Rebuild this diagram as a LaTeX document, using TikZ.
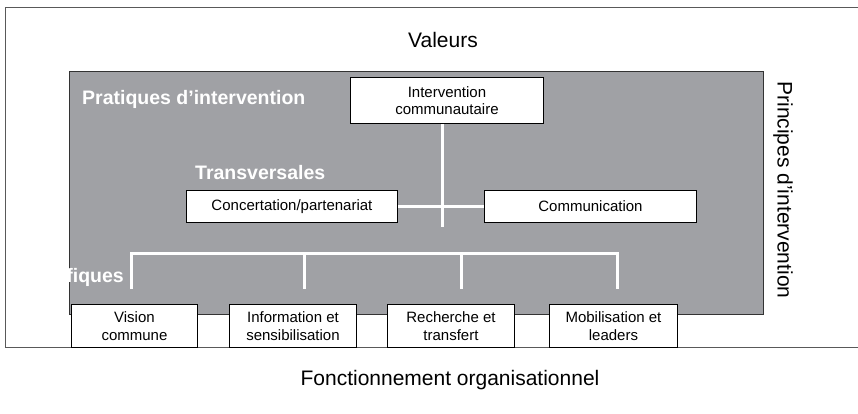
\documentclass[tikz,border=0pt]{standalone}
\usepackage{fontspec}
\setmainfont{Liberation Sans}
\begin{document}
\begin{tikzpicture}[x=1pt,y=-1pt,
  bigtxt/.style={font=\fontsize{21}{24}\selectfont, inner sep=0pt},
  hdr/.style={font=\fontsize{19.5}{22}\selectfont\bfseries, text=white, inner sep=0pt},
  wbox/.style={draw=black, line width=0.9pt, fill=white, font=\fontsize{15}{17.5}\selectfont, align=center, inner sep=0pt},
  wline/.style={draw=white, line width=3pt},
]
\useasboundingbox (0,0) rectangle (858,414);
\definecolor{boxgray}{RGB}{160,161,165}
% outer frame (right side runs off the picture)
\coordinate (otl) at (5,8);
\coordinate (otr) at (858,8);
\coordinate (obl) at (5,347);
\coordinate (obr) at (858,347);
\draw[draw=black!65, line width=1pt] (otr) -- (otl) -- (obl) -- (obr);
% gray panel
\node[draw=black!80, line width=1pt, fill=boxgray, minimum width=694pt, minimum height=243pt, anchor=north west, inner sep=0pt] (panel) at (69,71) {};
% texts
\node[bigtxt] (val) at (443,40) {Valeurs};
\node[bigtxt] (fonc) at (450,380) {Fonctionnement organisationnel};
\node[bigtxt, rotate=-90] (princ) at (783,190) {Principes d’intervention};
\node[hdr, anchor=west] (prat) at (82,99) {Pratiques d’intervention};
\node[hdr, anchor=west] (trans) at (195,173) {Transversales};
\node[hdr, anchor=east] (spec) at (124,277) {fiques};
% boxes
\node[wbox, minimum width=193pt, minimum height=46pt, anchor=north west] (ic) at (350,77) {Intervention\\communautaire};
\node[wbox, minimum width=211pt, minimum height=32pt, anchor=north west] (conc) at (186,190) {Concertation/partenariat};
\node[wbox, minimum width=212pt, minimum height=32pt, anchor=north west] (comm) at (484,190) {Communication};
% connectors (transversales)
\coordinate (vend) at (442,227);
\draw[wline] (ic.south -| vend) -- (vend);
\draw[wline] (conc.east) -- (comm.west);
% bracket for spécifiques
\coordinate (b1) at (131,289);
\coordinate (b2) at (304,289);
\coordinate (b3) at (461,289);
\coordinate (b4) at (617,289);
\draw[wline] (b1) -- (131,253) -- (617,253) -- (b4);
\draw[wline] (304,253) -- (b2);
\draw[wline] (461,253) -- (b3);
% bottom boxes
\node[wbox, minimum width=126pt, minimum height=43pt, anchor=north west] (vis) at (71,304) {Vision\\commune};
\node[wbox, minimum width=127pt, minimum height=43pt, anchor=north west] (info) at (229,304) {Information et\\sensibilisation};
\node[wbox, minimum width=127pt, minimum height=43pt, anchor=north west] (rech) at (387,304) {Recherche et\\transfert};
\node[wbox, minimum width=128pt, minimum height=43pt, anchor=north west] (mob) at (549,304) {Mobilisation et\\leaders};
\end{tikzpicture}
\end{document}
